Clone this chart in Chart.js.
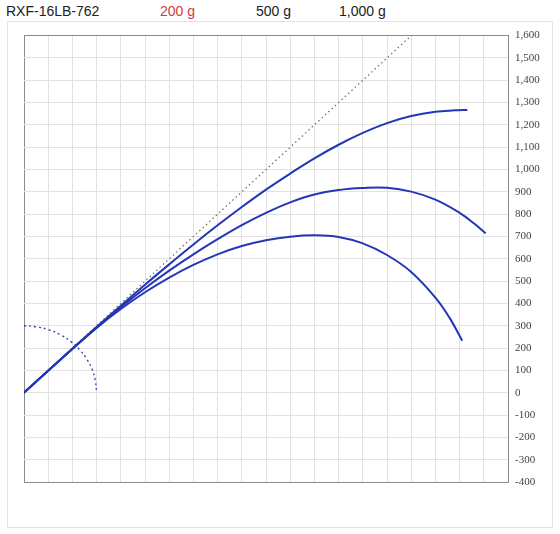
<!DOCTYPE html>
<html>
<head>
<meta charset="utf-8">
<script src="https://cdn.jsdelivr.net/npm/chart.js@4.4.0/dist/chart.umd.min.js"></script>
<style>
  html, body { margin: 0; padding: 0; background: #fff; width: 560px; height: 534px; overflow: hidden; }
  #header span { position: absolute; top: 3px; font-family: "Liberation Sans", Arial, sans-serif; font-size: 14px; line-height: 16px; color: #222; white-space: nowrap; }
  #box { position: absolute; left: 7px; top: 21px; width: 544px; height: 505px; border: 1px solid #e3e3e3; }
</style>
</head>
<body>
<div id="header"></div>
<div id="box"><canvas id="c"></canvas></div>
<script>
// ---- text ----
const chartTitle = 'RXF-16LB-762';
const seriesLabels = ['200 g', '500 g', '1,000 g'];

// ---- data (x, y) ----
const s200X = [0, 150, 300, 400, 500, 600, 700, 800, 900, 1000, 1100, 1200, 1300, 1400, 1500, 1600, 1700, 1780, 1832];
const s200Y = [0, 148, 294, 390, 484, 575, 664, 750, 832, 910, 982, 1050, 1111, 1164, 1208, 1240, 1259, 1265, 1267];

const s500X = [0, 150, 300, 400, 500, 600, 700, 800, 900, 1000, 1100, 1200, 1300, 1400, 1500, 1600, 1700, 1800, 1860, 1908];
const s500Y = [0, 148, 292, 383, 468, 547, 620, 688, 751, 806, 853, 888, 908, 917, 918, 901, 865, 806, 758, 714];

const s1000X = [0, 150, 300, 400, 500, 600, 700, 800, 900, 1000, 1100, 1200, 1300, 1400, 1500, 1600, 1700, 1760, 1811];
const s1000Y = [0, 148, 290, 375, 450, 516, 573, 620, 657, 683, 699, 705, 698, 669, 617, 541, 426, 333, 233];

const diagX = [0, 1600];
const diagY = [0, 1600];

const arcX = [0, 52, 103, 150, 193, 230, 260, 282, 295, 300];
const arcY = [300, 295, 282, 260, 230, 193, 150, 103, 52, 0];

// axis ranges
const xMin = 0, xMax = 2000, xStep = 100;
const yMin = -400, yMax = 1600, yStep = 100;

// ---- header ----
const header = document.getElementById('header');
const headerItems = [
  { text: chartTitle, left: 6, color: '#222' },
  { text: seriesLabels[0], left: 160, color: '#d23c3c' },
  { text: seriesLabels[1], left: 256, color: '#222' },
  { text: seriesLabels[2], left: 339, color: '#222' }
];
headerItems.forEach(h => {
  const s = document.createElement('span');
  s.textContent = h.text;
  s.style.left = h.left + 'px';
  s.style.color = h.color;
  header.appendChild(s);
});

function pts(xs, ys) { return xs.map((x, i) => ({ x: x, y: ys[i] })); }

const curveColor = '#2436b8';
const frameColor = '#8a8a8a';
const gridColor = '#e2e2e2';

new Chart(document.getElementById('c'), {
  type: 'scatter',
  data: {
    datasets: [
      { label: seriesLabels[0], data: pts(s200X, s200Y), showLine: true, borderColor: curveColor, borderWidth: 2, pointRadius: 0, tension: 0.4, fill: false },
      { label: seriesLabels[1], data: pts(s500X, s500Y), showLine: true, borderColor: curveColor, borderWidth: 2, pointRadius: 0, tension: 0.4, fill: false },
      { label: seriesLabels[2], data: pts(s1000X, s1000Y), showLine: true, borderColor: curveColor, borderWidth: 2, pointRadius: 0, tension: 0.4, fill: false },
      { label: 'diag', data: pts(diagX, diagY), showLine: true, borderColor: '#6f7a60', borderWidth: 1.3, borderDash: [1.5, 3], pointRadius: 0, fill: false },
      { label: 'arc', data: pts(arcX, arcY), showLine: true, borderColor: '#3040b0', borderWidth: 1.3, borderDash: [2, 3], pointRadius: 0, tension: 0.4, fill: false }
    ]
  },
  options: {
    responsive: true,
    maintainAspectRatio: false,
    animation: false,
    layout: { padding: { left: 16, top: 8, right: 0, bottom: 45 } },
    plugins: { legend: { display: false }, tooltip: { enabled: false }, title: { display: false } },
    scales: {
      x: {
        type: 'linear', position: 'bottom', min: xMin, max: xMax,
        ticks: { display: false, stepSize: xStep },
        grid: { drawTicks: false, color: ctx => (ctx.tick && ctx.tick.value === xMin) ? frameColor : gridColor, lineWidth: 1 },
        border: { display: true, color: frameColor, width: 1 },
        afterFit: s => { s.height = 0; }
      },
      y: {
        type: 'linear', position: 'right', min: yMin, max: yMax,
        ticks: {
          stepSize: yStep, padding: 7, color: '#444',
          font: { family: 'Liberation Serif', size: 11 },
          callback: v => Number(v).toLocaleString('en-US')
        },
        grid: { drawTicks: false, color: ctx => (ctx.tick && ctx.tick.value === yMax) ? frameColor : gridColor, lineWidth: 1 },
        border: { display: true, color: frameColor, width: 1 },
        afterFit: s => { s.width = 44; }
      }
    }
  }
});
</script>
</body>
</html>
